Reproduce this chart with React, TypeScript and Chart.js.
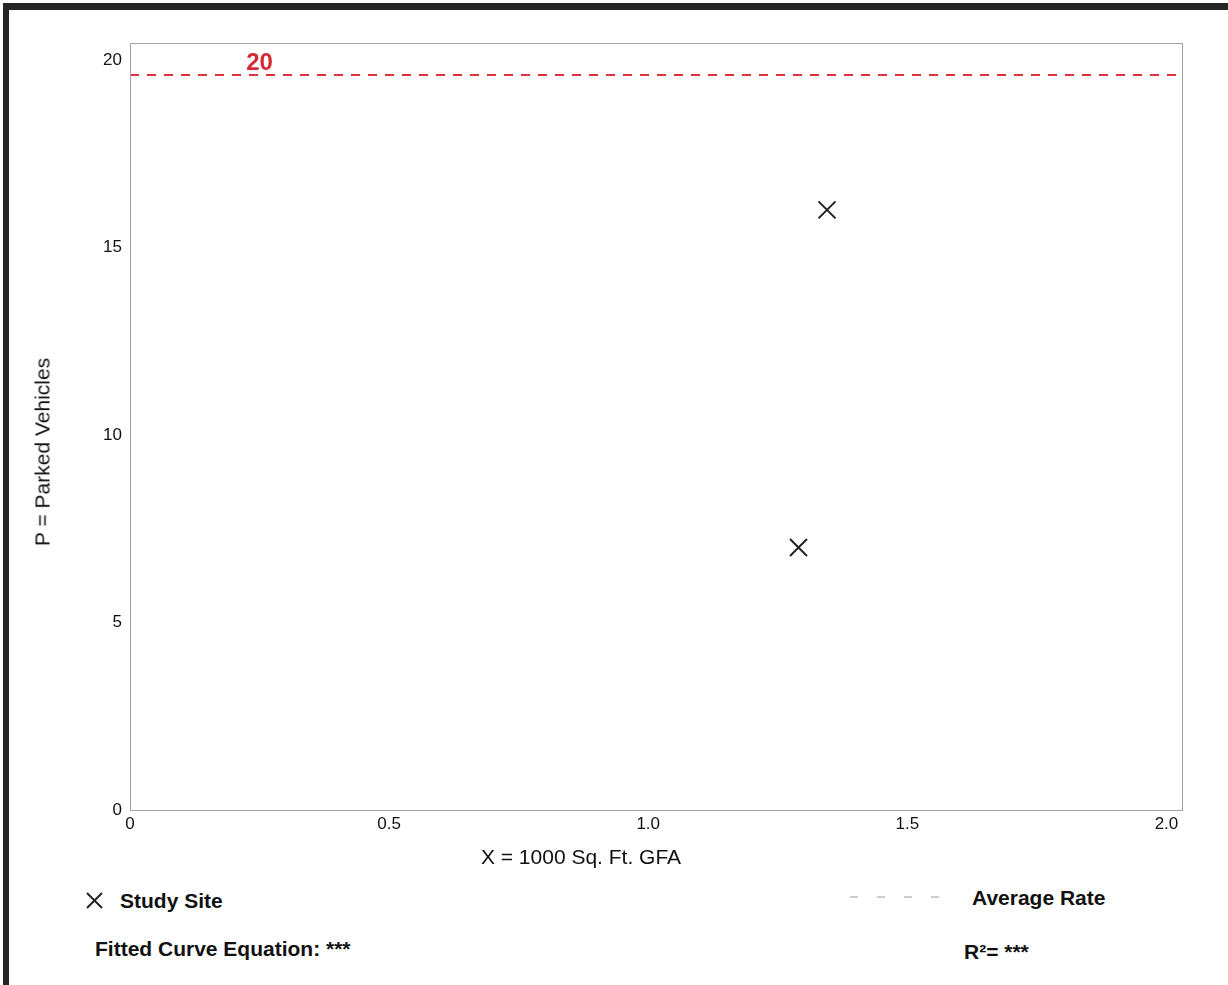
import React, { useEffect, useRef } from "react";
import { Chart, registerables } from "chart.js";

Chart.register(...registerables);

// ---- data ----
const studySiteX = [1.29, 1.345];
const studySiteY = [7.0, 16.0];
const averageRateValue = 19.6;
const averageRateLabel = "20";
const xRange = [0, 2.03];
const yRange = [0, 20.45];
const xTickStep = 0.5;
const yTickStep = 5;

const FONT = "'Liberation Sans', Arial, sans-serif";

const overlayPlugin = {
  id: "overlay",
  afterDraw(chart: any) {
    const { ctx, chartArea } = chart;
    const xs = chart.scales.x;
    const ys = chart.scales.y;
    ctx.save();
    // plot frame
    ctx.strokeStyle = "#a3a3a3";
    ctx.lineWidth = 1;
    ctx.strokeRect(
      Math.round(chartArea.left) + 0.5,
      Math.round(chartArea.top) + 0.5,
      Math.round(chartArea.right - chartArea.left),
      Math.round(chartArea.bottom - chartArea.top)
    );
    // average rate label
    ctx.fillStyle = "#d42a35";
    ctx.font = `bold 24px ${FONT}`;
    ctx.textAlign = "center";
    ctx.textBaseline = "alphabetic";
    ctx.fillText(
      averageRateLabel,
      xs.getPixelForValue(0.25),
      ys.getPixelForValue(averageRateValue) - 5
    );
    ctx.restore();
  },
};

function XMark({ size }: { size: number }) {
  return (
    <svg width={size} height={size} style={{ display: "block" }}>
      <line x1={1} y1={1} x2={size - 1} y2={size - 1} stroke="#222" strokeWidth={2} />
      <line x1={size - 1} y1={1} x2={1} y2={size - 1} stroke="#222" strokeWidth={2} />
    </svg>
  );
}

export default function App() {
  const canvasRef = useRef<HTMLCanvasElement | null>(null);

  useEffect(() => {
    if (!canvasRef.current) return;
    const chart = new Chart(canvasRef.current, {
      type: "scatter",
      data: {
        datasets: [
          {
            label: "Study Site",
            data: studySiteX.map((x, i) => ({ x, y: studySiteY[i] })),
            pointStyle: "crossRot",
            pointRadius: 12,
            pointHoverRadius: 12,
            borderColor: "#222",
            backgroundColor: "#222",
            pointBorderWidth: 2,
            showLine: false,
          } as any,
          {
            type: "line",
            label: "Average Rate",
            data: [
              { x: xRange[0], y: averageRateValue },
              { x: xRange[1], y: averageRateValue },
            ],
            borderColor: "#e0303c",
            borderWidth: 2,
            borderDash: [9, 8],
            pointRadius: 0,
            fill: false,
          } as any,
        ],
      },
      options: {
        animation: false,
        responsive: false,
        devicePixelRatio: 1,
        layout: { padding: { left: 0, top: 43, right: 46, bottom: 0 } },
        plugins: {
          legend: { display: false },
          tooltip: { enabled: false },
        },
        scales: {
          x: {
            type: "linear",
            min: xRange[0],
            max: xRange[1],
            grid: { display: false, drawTicks: false },
            border: { display: false },
            ticks: {
              stepSize: xTickStep,
              includeBounds: false,
              padding: 4,
              color: "#111",
              font: { family: FONT, size: 17 },
              maxRotation: 0,
              callback: (v: any) => (Number(v) === 0 ? "0" : Number(v).toFixed(1)),
            },
            afterFit: (s: any) => {
              s.height = 50;
            },
          },
          y: {
            type: "linear",
            min: yRange[0],
            max: yRange[1],
            grid: { display: false, drawTicks: false },
            border: { display: false },
            ticks: {
              stepSize: yTickStep,
              includeBounds: false,
              padding: 8,
              color: "#111",
              font: { family: FONT, size: 17 },
              callback: (v: any) => String(v),
            },
            afterFit: (s: any) => {
              s.width = 130;
            },
          },
        },
      } as any,
      plugins: [overlayPlugin],
    });
    return () => chart.destroy();
  }, []);

  const text: React.CSSProperties = {
    position: "absolute",
    fontFamily: FONT,
    color: "#111",
    lineHeight: 1,
    whiteSpace: "nowrap",
  };

  return (
    <div
      style={{
        position: "fixed",
        left: 0,
        top: 0,
        width: 1228,
        height: 985,
        background: "#fff",
        overflow: "hidden",
      }}
    >
      <div
        style={{
          position: "absolute",
          left: 3,
          top: 3,
          width: 1225,
          height: 982,
          borderLeft: "6px solid #262626",
          borderTop: "7px solid #262626",
          boxSizing: "border-box",
        }}
      />
      <canvas
        ref={canvasRef}
        width={1228}
        height={860}
        style={{ position: "absolute", left: 0, top: 0 }}
      />
      <div
        style={{
          ...text,
          fontSize: 21,
          left: 42,
          top: 452,
          transform: "translate(-50%, -50%) rotate(-90deg)",
        }}
      >
        P = Parked Vehicles
      </div>
      <div
        style={{
          ...text,
          fontSize: 21,
          left: 581,
          top: 846,
          transform: "translateX(-50%)",
        }}
      >
        X = 1000 Sq. Ft. GFA
      </div>
      <div style={{ position: "absolute", left: 86, top: 892 }}>
        <XMark size={17} />
      </div>
      <div style={{ ...text, fontSize: 21, fontWeight: "bold", left: 120, top: 890 }}>
        Study Site
      </div>
      <div style={{ ...text, fontSize: 21, fontWeight: "bold", left: 95, top: 938 }}>
        Fitted Curve Equation: ***
      </div>
      <svg
        width={92}
        height={6}
        style={{ position: "absolute", left: 849, top: 894 }}
      >
        <line
          x1={1}
          y1={3}
          x2={90}
          y2={3}
          stroke="#bdbdbd"
          strokeWidth={1.5}
          strokeDasharray="8 19"
        />
      </svg>
      <div style={{ ...text, fontSize: 21, fontWeight: "bold", left: 972, top: 887 }}>
        Average Rate
      </div>
      <div style={{ ...text, fontSize: 21, fontWeight: "bold", left: 964, top: 941 }}>
        R²= ***
      </div>
    </div>
  );
}
